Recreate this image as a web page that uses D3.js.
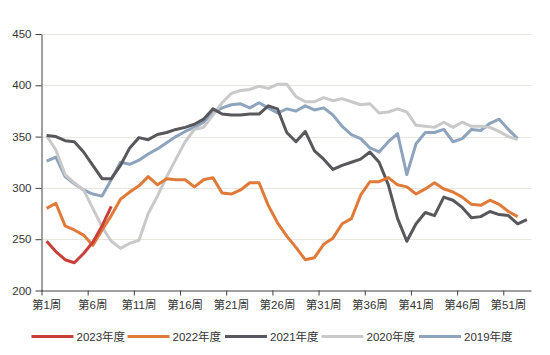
<!DOCTYPE html>
<html><head><meta charset="utf-8">
<script src="https://cdn.jsdelivr.net/npm/d3@7/dist/d3.min.js"></script>
<style>
html,body{margin:0;padding:0;background:#fff;}
svg text{font-family:"Liberation Sans",Arial,"Noto Sans CJK SC",sans-serif;fill:#333;}
</style></head>
<body><svg id="c" width="550" height="355"></svg>
<script>
const weeks = d3.range(1, 54);
const weekTicks = [1, 6, 11, 16, 21, 26, 31, 36, 41, 46, 51];
const yTicks = [200, 250, 300, 350, 400, 450];
const seriesNames = ["2023年度", "2022年度", "2021年度", "2020年度", "2019年度"];
const seriesColors = ["#c9403a", "#e07a38", "#58585c", "#c9c9c9", "#8ea3bc"];

const s2023 = [248, 238, 230, 227, 236, 247, 263, 282];
const s2022 = [280, 285, 263, 259, 254, 244, 259, 273, 289, 296, 302, 311, 303, 309, 308, 308, 301, 308, 310, 295,
  294, 298, 305, 305, 283, 266, 253, 242, 230, 232, 245, 251, 265, 270, 293, 306, 306, 310, 303, 301,
  294, 299, 305, 299, 296, 291, 284, 283, 288, 284, 277, 272];
const s2021 = [351, 350, 346, 345, 335, 322, 309, 309, 322, 339, 349, 347, 352, 354, 357, 359, 362, 367, 377, 372,
  371, 371, 372, 372, 380, 377, 354, 345, 355, 336, 328, 318, 322, 325, 328, 335, 325, 303, 270, 248,
  265, 276, 273, 291, 288, 281, 271, 272, 277, 274, 273, 265, 269];
const s2020 = [351, 337, 313, 305, 298, 280, 262, 248, 241, 246, 249, 275, 292, 311, 328, 345, 357, 359, 371, 383,
  392, 395, 396, 399, 397, 401, 401, 389, 384, 384, 388, 385, 387, 384, 381, 382, 373, 374, 377, 374,
  361, 360, 359, 364, 359, 364, 360, 360, 359, 355, 350, 347];
const s2019 = [326, 330, 311, 304, 298, 294, 292, 308, 325, 323, 327, 333, 338, 344, 350, 355, 359, 364, 373, 378,
  381, 382, 378, 383, 378, 373, 377, 375, 380, 376, 378, 371, 360, 352, 348, 339, 335, 345, 353, 313,
  343, 354, 354, 357, 345, 348, 357, 356, 363, 367, 357, 348];
const seriesData = [s2023, s2022, s2021, s2020, s2019];

const svg = d3.select("#c");
const x = d3.scaleBand().domain(weeks).range([42, 531.5]).paddingInner(0).paddingOuter(0);
const y = d3.scaleLinear().domain([200, 450]).range([290.5, 34]);
const bw = x.bandwidth();

// gridlines
svg.append("g").selectAll("line").data(yTicks.filter(t => t > 200)).join("line")
  .attr("x1", 42).attr("x2", 531.5)
  .attr("y1", d => Math.round(y(d)) + 0.5).attr("y2", d => Math.round(y(d)) + 0.5)
  .attr("stroke", "#e8e6de").attr("stroke-width", 1);

// lines (2019 at bottom)
const line = d3.line().x((d, i) => x(weeks[i]) + bw / 2).y(d => y(d));
const order = [4, 3, 2, 1, 0];
order.forEach(k => {
  svg.append("path").datum(seriesData[k])
    .attr("fill", "none").attr("stroke", seriesColors[k]).attr("stroke-width", 3)
    .attr("stroke-linejoin", "round").attr("stroke-linecap", "butt")
    .attr("d", line);
});

// y axis
const ya = svg.append("g").attr("transform", "translate(41.5,0)")
  .call(d3.axisLeft(y).tickValues(yTicks).tickSize(6).tickSizeOuter(0).tickPadding(4));
ya.select(".domain").attr("stroke", "#404040");
ya.selectAll(".tick line").attr("stroke", "#404040");
ya.selectAll("text").style("font-size", "11.5px").attr("fill", "#333");

// x axis
const xa = svg.append("g").attr("transform", "translate(0,290.5)")
  .call(d3.axisBottom(x).tickValues(weekTicks).tickFormat(d => "第" + d + "周").tickSize(5).tickSizeOuter(0).tickPadding(5));
xa.select(".domain").attr("stroke", "#404040").attr("d", "M41,0.5H531.5");
xa.selectAll(".tick line").attr("stroke", "#404040").attr("x1", -bw / 2).attr("x2", -bw / 2);
xa.selectAll("text").style("font-size", "11.5px").attr("fill", "#333");

// legend
const legX = [31.5, 127.5, 225, 321.5, 419];
const lg = svg.append("g");
seriesNames.forEach((n, i) => {
  lg.append("line").attr("x1", legX[i]).attr("x2", legX[i] + 42)
    .attr("y1", 336.5).attr("y2", 336.5)
    .attr("stroke", seriesColors[i]).attr("stroke-width", 3);
  lg.append("text").attr("x", legX[i] + 45).attr("y", 340.5)
    .style("font-size", "11.5px").text(n);
});
</script></body></html>
